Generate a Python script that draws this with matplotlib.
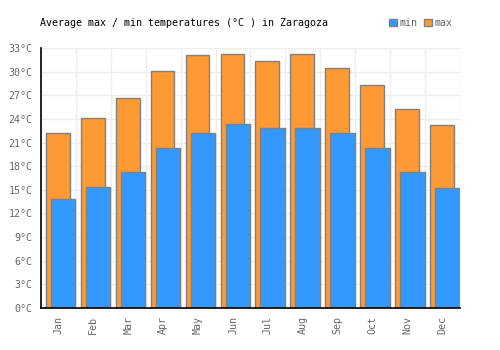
import numpy as np
import matplotlib.pyplot as plt
from matplotlib.patches import Patch

months = ['Jan', 'Feb', 'Mar', 'Apr', 'May', 'Jun', 'Jul', 'Aug', 'Sep', 'Oct', 'Nov', 'Dec']
t_max = [22.2, 24.1, 26.7, 30.1, 32.1, 32.2, 31.4, 32.2, 30.5, 28.3, 25.2, 23.2]
t_min = [13.8, 15.3, 17.2, 20.3, 22.2, 23.3, 22.9, 22.9, 22.2, 20.3, 17.2, 15.2]
y_ticks = list(range(0, 34, 3))

plt.rcParams['font.family'] = 'DejaVu Sans Mono'

fig = plt.figure(figsize=(5, 3.5), dpi=100)
ax = fig.add_axes([0.082, 0.12, 0.838, 0.743])

x = np.arange(len(months))
ax.bar(x - 0.357, t_max, width=0.68, align='edge', color='#ff9933',
       edgecolor='#808080', linewidth=1, zorder=2)
ax.bar(x - 0.214, t_min, width=0.70, align='edge', color='#3399ff',
       edgecolor='#808080', linewidth=1, zorder=3)

ax.set_xlim(-0.5, 11.5)
ax.set_ylim(0, 33)
ax.set_yticks(y_ticks)
ax.set_yticklabels(['%d°C' % v for v in y_ticks])
ax.set_xticks(x)
ax.set_xticklabels(months, rotation=90)
ax.set_xticks(np.arange(-0.5, 12, 1), minor=True)
ax.tick_params(axis='both', which='both', length=0, labelsize=7.2, labelcolor='#666666')
ax.tick_params(axis='x', pad=6)
ax.tick_params(axis='y', pad=6)

ax.grid(axis='y', color='#eeeeee', linewidth=1, zorder=0)
ax.grid(axis='x', which='minor', color='#eeeeee', linewidth=1, zorder=0)
ax.set_axisbelow(True)

for s in ['top', 'right']:
    ax.spines[s].set_visible(False)
for s in ['left', 'bottom']:
    ax.spines[s].set_color('black')
    ax.spines[s].set_linewidth(1.2)
    ax.spines[s].set_zorder(4)

fig.text(0.08, 0.934, 'Average max / min temperatures (°C ) in Zaragoza',
         fontsize=7.2, color='black', va='center', ha='left')

handles = [Patch(facecolor='#3399ff', edgecolor='#808080', label='min'),
           Patch(facecolor='#ff9933', edgecolor='#808080', label='max')]
leg = fig.legend(handles=handles, ncol=2, frameon=False, loc='center right',
                 bbox_to_anchor=(0.915, 0.934), fontsize=7.2,
                 handlelength=0.8, handleheight=0.8, handletextpad=0.3,
                 columnspacing=0.6, borderpad=0)
for t in leg.get_texts():
    t.set_color('#666666')

fig.savefig('out.png', dpi=100)
